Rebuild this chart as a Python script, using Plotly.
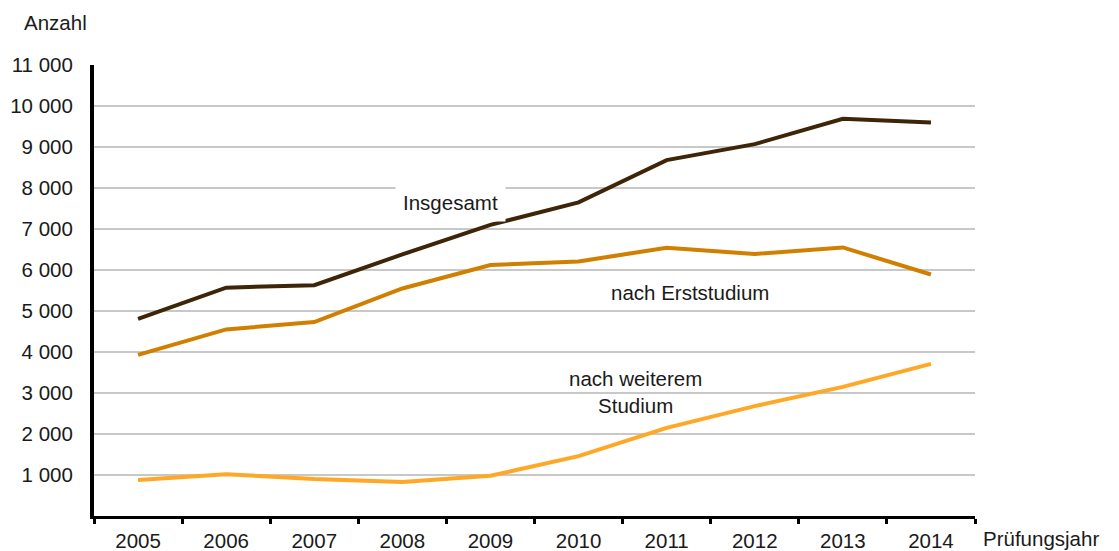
import plotly.graph_objects as go

years = ["2005", "2006", "2007", "2008", "2009", "2010", "2011", "2012", "2013", "2014"]
insgesamt = [4810, 5570, 5630, 6380, 7100, 7650, 8680, 9070, 9690, 9600]
erststudium = [3930, 4550, 4730, 5550, 6120, 6210, 6540, 6390, 6550, 5890]
weiteres = [880, 1020, 900, 830, 980, 1460, 2150, 2680, 3150, 3710]
y_ticks = [1000, 2000, 3000, 4000, 5000, 6000, 7000, 8000, 9000, 10000, 11000]
y_ticktext = ["1 000", "2 000", "3 000", "4 000", "5 000", "6 000", "7 000", "8 000", "9 000", "10 000", "11 000"]

FONT = "Liberation Sans, Arial, sans-serif"
FS = 20.5
TXT = "#1a1a1a"

fig = go.Figure()
fig.add_trace(go.Scatter(x=years, y=weiteres, mode="lines", line=dict(color="#ffa726", width=4), name="nach weiterem Studium"))
fig.add_trace(go.Scatter(x=years, y=erststudium, mode="lines", line=dict(color="#d07f00", width=4), name="nach Erststudium"))
fig.add_trace(go.Scatter(x=years, y=insgesamt, mode="lines", line=dict(color="#3f2508", width=4), name="Insgesamt"))

fig.update_layout(
    width=1119, height=551,
    margin=dict(l=86, r=152, t=57, b=43),
    paper_bgcolor="white", plot_bgcolor="white",
    showlegend=False,
    font=dict(family=FONT, size=FS, color=TXT),
    xaxis=dict(
        type="category", range=[-0.5, 9.5], automargin=False,
        showline=True, linecolor="black", linewidth=3,
        ticks="outside", tickson="boundaries", ticklen=5, tickwidth=3, tickcolor="black",
        showgrid=False, zeroline=False, ticklabelstandoff=4,
        tickfont=dict(size=FS, family=FONT, color=TXT),
    ),
    yaxis=dict(
        range=[0, 11000], automargin=False,
        tickvals=y_ticks, ticktext=y_ticktext,
        showline=True, linecolor="black", linewidth=4,
        showgrid=True, gridcolor="#c8c8c8", gridwidth=1.5,
        zeroline=False, ticks="", ticklabelstandoff=13,
        tickfont=dict(size=FS, family=FONT, color=TXT),
    ),
    annotations=[
        dict(text="Anzahl", xref="paper", yref="paper", x=-0.0817, y=1.095, xanchor="left", yanchor="middle",
             showarrow=False, font=dict(size=FS, family=FONT, color=TXT)),
        dict(text="Prüfungsjahr", xref="paper", yref="paper", x=1.007, y=-0.049, xanchor="left", yanchor="middle",
             showarrow=False, font=dict(size=FS, family=FONT, color=TXT)),
        dict(text="Insgesamt", xref="x", yref="y", x=3.55, y=7640, xanchor="center", yanchor="middle",
             showarrow=False, bgcolor="white", borderpad=7, font=dict(size=FS, family=FONT, color=TXT)),
        dict(text="nach Erststudium", xref="x", yref="y", x=6.27, y=5440, xanchor="center", yanchor="middle",
             showarrow=False, font=dict(size=FS, family=FONT, color=TXT)),
        dict(text="nach weiterem<br>Studium", xref="x", yref="y", x=5.65, y=3020, xanchor="center", yanchor="middle",
             showarrow=False, font=dict(size=FS, family=FONT, color=TXT)),
    ],
)

fig.write_html("out.html")
